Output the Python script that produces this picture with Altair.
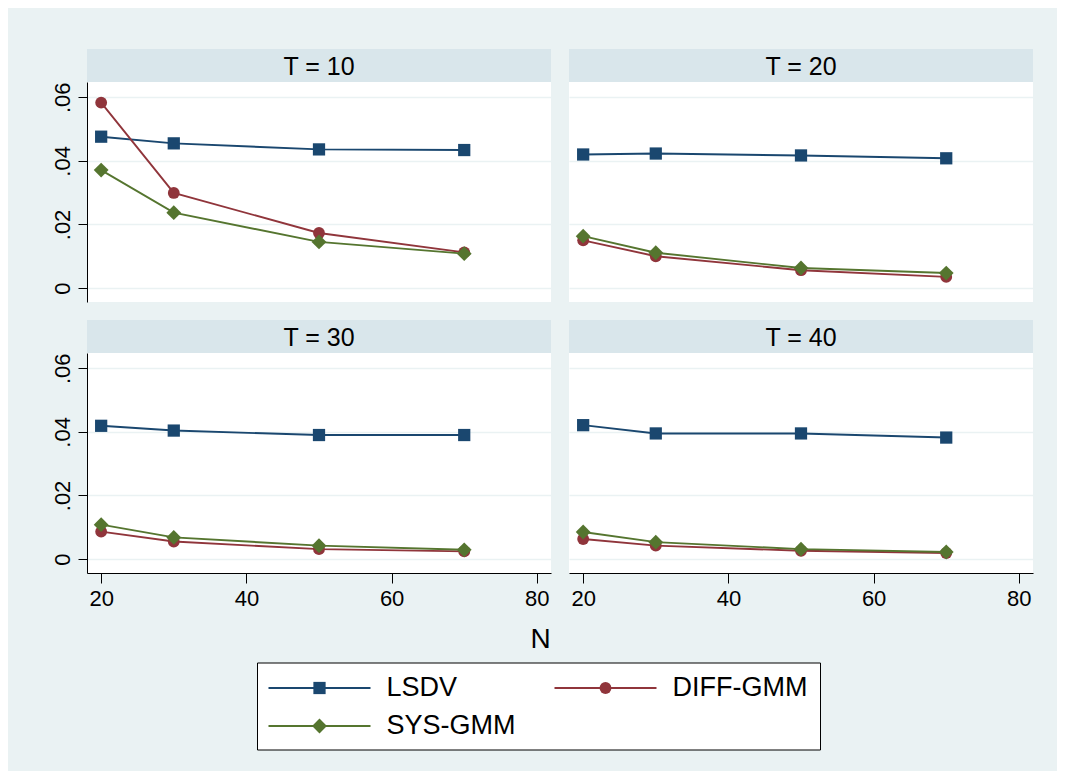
import altair as alt
import pandas as pd

# ---------------- data ----------------
N_VALUES = [20, 30, 50, 70]
T_PANELS = [10, 20, 30, 40]
SERIES = ["LSDV", "DIFF-GMM", "SYS-GMM"]

LSDV_T10 = [0.0476, 0.0455, 0.0436, 0.0434]
DIFF_T10 = [0.0583, 0.0299, 0.0173, 0.0112]
SYS_T10 = [0.0371, 0.0237, 0.0145, 0.0108]

LSDV_T20 = [0.0420, 0.0423, 0.0417, 0.0408]
DIFF_T20 = [0.0150, 0.0100, 0.0056, 0.0035]
SYS_T20 = [0.0163, 0.0111, 0.0063, 0.0047]

LSDV_T30 = [0.0419, 0.0404, 0.0390, 0.0390]
DIFF_T30 = [0.0086, 0.0055, 0.0031, 0.0024]
SYS_T30 = [0.0108, 0.0068, 0.0042, 0.0029]

LSDV_T40 = [0.0421, 0.0395, 0.0395, 0.0382]
DIFF_T40 = [0.0063, 0.0042, 0.0026, 0.0019]
SYS_T40 = [0.0085, 0.0053, 0.0031, 0.0022]

Y_TICKS = [0, 0.02, 0.04, 0.06]
X_TICKS = [20, 40, 60, 80]

VALUES = {
    10: {"LSDV": LSDV_T10, "DIFF-GMM": DIFF_T10, "SYS-GMM": SYS_T10},
    20: {"LSDV": LSDV_T20, "DIFF-GMM": DIFF_T20, "SYS-GMM": SYS_T20},
    30: {"LSDV": LSDV_T30, "DIFF-GMM": DIFF_T30, "SYS-GMM": SYS_T30},
    40: {"LSDV": LSDV_T40, "DIFF-GMM": DIFF_T40, "SYS-GMM": SYS_T40},
}

# ---------------- style ----------------
FONT = "Liberation Sans"
BG = "#EAF2F3"
STRIP = "#D9E6EB"
GRID = "#EAF2F3"
COLORS = {"LSDV": "#1A476F", "DIFF-GMM": "#90353B", "SYS-GMM": "#55752F"}
SHAPES = {"LSDV": "square", "DIFF-GMM": "circle", "SYS-GMM": "diamond"}
SIZES = {"LSDV": 150, "DIFF-GMM": 140, "SYS-GMM": 220}
LINE_W = 1.9

W, H, HH = 464, 220, 33
X_SCALE = alt.Scale(domain=[18.05, 81.95], nice=False, zero=False)
Y_SCALE = alt.Scale(domain=[-0.0044, 0.0648], nice=False, zero=False)


def panel(T, show_y, show_x):
    rows = []
    for s in SERIES:
        for n, v in zip(N_VALUES, VALUES[T][s]):
            rows.append({"N": n, "value": v, "series": s})
    df = pd.DataFrame(rows)

    if show_y:
        y_axis = alt.Axis(
            values=Y_TICKS,
            labelExpr="datum.value == 0 ? '0' : substring(format(datum.value, '.2f'), 1)",
            labelAngle=270, labelFontSize=22, labelFont=FONT, labelColor="black",
            labelPadding=4, tickSize=9, tickColor="black", tickWidth=1,
            domainColor="black", domainWidth=1,
            grid=True, gridColor=GRID, gridWidth=1.5,
            title=None, minExtent=36, maxExtent=36,
        )
    else:
        y_axis = alt.Axis(values=Y_TICKS, labels=False, ticks=False, domain=False,
                          grid=True, gridColor=GRID, gridWidth=1.5, title=None)

    if show_x:
        kw = dict(
            values=X_TICKS, labelFontSize=22, labelFont=FONT, labelColor="black",
            labelPadding=5, tickSize=10, tickColor="black", tickWidth=1,
            domainColor="black", domainWidth=1, grid=False,
        )
        if T == 30:
            kw.update(title="N", titleFont=FONT, titleFontSize=28, titleFontWeight="normal",
                      titleColor="black", titleX=453, titleY=74, titleAlign="center",
                      titleBaseline="alphabetic")
        else:
            kw.update(title=None)
        x_axis = alt.Axis(**kw)
    else:
        x_axis = None

    base = alt.Chart(df).encode(
        x=alt.X("N:Q", scale=X_SCALE, axis=x_axis),
        y=alt.Y("value:Q", scale=Y_SCALE, axis=y_axis),
    )
    layers = []
    for s in SERIES:
        b = base.transform_filter(alt.datum.series == s)
        layers.append(b.mark_line(color=COLORS[s], strokeWidth=LINE_W))
        layers.append(b.mark_point(filled=True, opacity=1, color=COLORS[s],
                                   shape=SHAPES[s], size=SIZES[s]))

    hdf = pd.DataFrame({"label": [f"T = {T}"]})
    strip = alt.Chart(hdf).mark_rect(fill=STRIP).encode(
        x=alt.value(0), x2=alt.value(W), y=alt.value(-HH), y2=alt.value(0)
    )
    strip_txt = alt.Chart(hdf).mark_text(
        font=FONT, fontSize=25, color="black", baseline="middle", align="center"
    ).encode(x=alt.value(W / 2), y=alt.value(-HH / 2 + 1), text="label:N")

    return alt.layer(*layers, strip, strip_txt).properties(width=W, height=H)


top = alt.hconcat(panel(10, True, False), panel(20, False, False), spacing=18)
bottom = alt.hconcat(panel(30, True, True), panel(40, False, True), spacing=18)
grid = alt.vconcat(top, bottom, spacing=18)

# ---------------- legend ----------------
LW, LH = 563, 87
SHIFT = 42  # extra view width so the centred legend box sits where the reference has it
leg_df = pd.DataFrame({"series": SERIES, "col": [0, 1, 0], "row": [0, 0, 1]})
box = alt.Chart(pd.DataFrame({"k": [0]})).mark_rect(
    fill="white", stroke="black", strokeWidth=1
).encode(x=alt.value(0), x2=alt.value(LW), y=alt.value(0), y2=alt.value(LH))

leg_base = alt.Chart(leg_df).transform_calculate(
    lx0="datum.col * 286 + 11",
    lx1="datum.col * 286 + 113",
    mx="datum.col * 286 + 62",
    tx="datum.col * 286 + 129",
    ly="datum.row * 38 + 25",
)
leg_layers = [box]
for s in SERIES:
    b = leg_base.transform_filter(alt.datum.series == s)
    leg_layers.append(b.mark_rule(color=COLORS[s], strokeWidth=LINE_W).encode(
        x=alt.X("lx0:Q", scale=None, axis=None), x2="lx1:Q",
        y=alt.Y("ly:Q", scale=None, axis=None)))
    leg_layers.append(b.mark_point(filled=True, opacity=1, color=COLORS[s],
                                   shape=SHAPES[s], size=SIZES[s]).encode(
        x=alt.X("mx:Q", scale=None, axis=None),
        y=alt.Y("ly:Q", scale=None, axis=None)))
    leg_layers.append(b.mark_text(font=FONT, fontSize=27, color="black",
                                  align="left", baseline="middle").encode(
        x=alt.X("tx:Q", scale=None, axis=None),
        y=alt.Y("ly:Q", scale=None, axis=None), text="series:N"))
legend = alt.layer(*leg_layers).properties(
    width=LW + SHIFT, height=LH, view=alt.ViewBackground(fill=BG)
)

chart = alt.vconcat(grid, legend, spacing=9, center=True).properties(
    background=BG,
    padding={"left": 43, "top": 41, "right": 24, "bottom": 20},
).configure_view(stroke=None, fill="white")

chart.save("out.html", embed_options={"renderer": "svg", "actions": False})
